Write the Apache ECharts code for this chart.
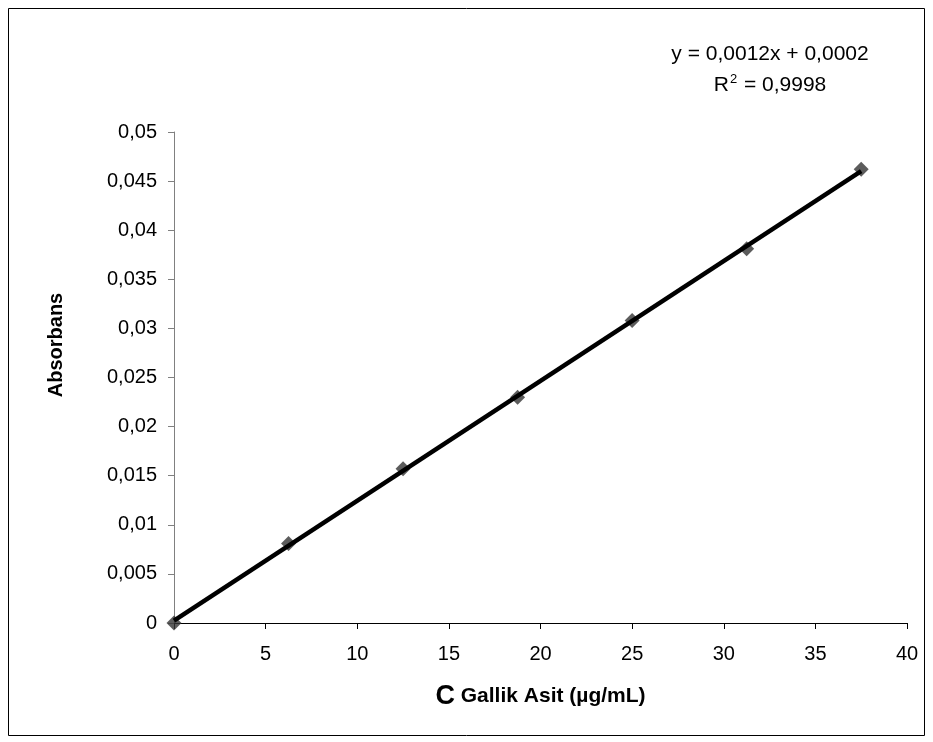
<!DOCTYPE html>
<html>
<head>
<meta charset="utf-8">
<script src="https://cdn.jsdelivr.net/npm/echarts@6/dist/echarts.min.js"></script>
<style>
html,body{margin:0;padding:0;background:#fff;}
#chart{width:933px;height:742px;}
</style>
</head>
<body>
<div id="chart"></div>
<script>
// Data
const concentrations = [0, 6.25, 12.5, 18.75, 25, 31.25, 37.5];
const absorbances = [0, 0.0081, 0.0157, 0.0230, 0.0308, 0.0381, 0.0462];
const equationText = 'y = 0,0012x + 0,0002';
const r2Value = '0,9998';
const xAxisTitleMain = 'C';
const xAxisTitleRest = ' Gallik Asit (µg/mL)';
const yAxisTitle = 'Absorbans';

// Least-squares trendline computed from the data
const n = concentrations.length;
const mx = concentrations.reduce((a, b) => a + b, 0) / n;
const my = absorbances.reduce((a, b) => a + b, 0) / n;
let sxy = 0, sxx = 0;
for (let i = 0; i < n; i++) {
  sxy += (concentrations[i] - mx) * (absorbances[i] - my);
  sxx += (concentrations[i] - mx) * (concentrations[i] - mx);
}
const slope = sxy / sxx;
const intercept = my - slope * mx;
const xFirst = concentrations[0], xLast = concentrations[n - 1];
const trend = [[xFirst, intercept + slope * xFirst], [xLast, intercept + slope * xLast]];

const font = '"Liberation Sans", Arial, sans-serif';
const chart = echarts.init(document.getElementById('chart'));
chart.setOption({
  animation: false,
  backgroundColor: '#fff',
  grid: { left: 174, right: 26, top: 132, bottom: 119, containLabel: false },
  xAxis: {
    type: 'value', min: 0, max: 40, interval: 5,
    axisLine: { show: true, onZero: false, lineStyle: { color: '#000', width: 1 } },
    axisTick: { show: true, inside: false, length: 6, lineStyle: { color: '#000' } },
    axisLabel: { color: '#000', fontFamily: font, fontSize: 20, margin: 21 },
    splitLine: { show: false },
    name: '{c|' + xAxisTitleMain + '}{r|' + xAxisTitleRest + '}',
    nameLocation: 'middle', nameGap: 60,
    nameTextStyle: {
      rich: {
        c: { fontFamily: font, fontSize: 27, fontWeight: 'bold', color: '#000' },
        r: { fontFamily: font, fontSize: 21, fontWeight: 'bold', color: '#000' }
      }
    }
  },
  yAxis: {
    type: 'value', min: 0, max: 0.05, interval: 0.005,
    axisLine: { show: true, onZero: false, lineStyle: { color: '#808080', width: 1 } },
    axisTick: { show: true, inside: false, length: 6, lineStyle: { color: '#808080' } },
    axisLabel: {
      color: '#000', fontFamily: font, fontSize: 20, margin: 17,
      formatter: v => String(+v.toFixed(3)).replace('.', ',')
    },
    splitLine: { show: false }
  },
  graphic: [
    { type: 'rect', shape: { x: 8.5, y: 8.5, width: 916, height: 727 },
      style: { fill: 'none', stroke: '#000', lineWidth: 1 }, silent: true },
    { type: 'text', x: 56, y: 345, rotation: Math.PI / 2,
      style: { text: yAxisTitle, font: 'bold 20px ' + font, fill: '#000', align: 'center', verticalAlign: 'middle' } },
    { type: 'text', x: 770, y: 54,
      style: { text: equationText, font: '21px ' + font, fill: '#000', align: 'center', verticalAlign: 'middle' } },
    { type: 'text', x: 770, y: 85,
      style: { text: '{r|R}{s|2}{r| = ' + r2Value + '}', align: 'center', verticalAlign: 'middle',
        rich: {
          r: { fontFamily: font, fontSize: 21, color: '#000', lineHeight: 24 },
          s: { fontFamily: font, fontSize: 13, color: '#000', lineHeight: 24, verticalAlign: 'top', padding: [0, 1, 0, 1] }
        } } }
  ],
  series: [
    {
      type: 'line', data: trend, symbol: 'none', z: 3,
      lineStyle: { color: '#000', width: 4.5 }, silent: true
    },
    {
      type: 'scatter', data: concentrations.map((x, i) => [x, absorbances[i]]),
      symbol: 'diamond', symbolSize: [15, 15], z: 2,
      itemStyle: { color: '#333' }
    }
  ]
});
</script>
</body>
</html>
